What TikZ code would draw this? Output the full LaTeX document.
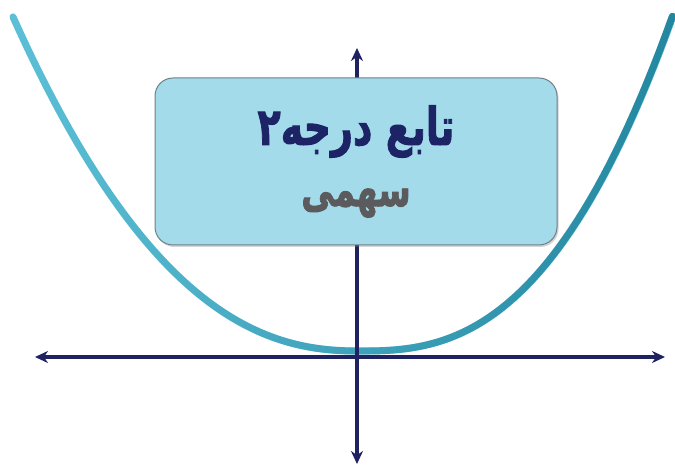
\documentclass[tikz,border=0pt]{standalone}
\usepackage{graphicx}
\usepackage{fontspec}
\newfontfamily\farsifont[Script=Arabic,BoldFeatures={FakeBold=2}]{DejaVu Sans}
\TeXXeTstate=1
\usetikzlibrary{arrows.meta,shadows,fadings}

\definecolor{curvelight}{HTML}{5CC0D7}
\definecolor{curvedark}{HTML}{2487A0}
\definecolor{axisnavy}{HTML}{1F2160}
\definecolor{boxfill}{HTML}{A3DBEA}
\definecolor{boxline}{HTML}{6F8089}
\definecolor{titlenavy}{HTML}{1D2466}
\definecolor{subgray}{HTML}{5B5B5D}

\tikzfading[name=curvefade, left color=transparent!100, right color=transparent!0]

\begin{document}
\begin{tikzpicture}[
    x=1pt, y=-1pt,
    >={Stealth[length=13pt,width=12pt]},
    axis/.style={
        draw=axisnavy,
        line width=3.4pt,
        <->
    },
    curve/.style={
        line width=7pt,
        line cap=round,
        line join=round
    },
    titlebox/.style={
        draw=boxline,
        fill=boxfill,
        rounded corners=18pt,
        line width=1pt,
        minimum width=402pt,
        minimum height=167pt,
        inner sep=0pt,
        align=center,
        font=\farsifont\bfseries,
        drop shadow={shadow xshift=1.5pt, shadow yshift=-2pt, opacity=0.35}
    }
]
\useasboundingbox (0,0) rectangle (675,470);

% Parabola (x in hundreds of pixels from the vertex)
\draw[curve, draw=curvelight]
    plot[domain=3.47:0.02, samples=50] ({360-100*\x},{351-18.87*\x^2.31})
    -- plot[domain=0.02:3.13, samples=50] ({360+100*\x},{351-17.24*\x^2.6});
\draw[curve, draw=curvedark, path fading=curvefade]
    plot[domain=3.47:0.02, samples=50] ({360-100*\x},{351-18.87*\x^2.31})
    -- plot[domain=0.02:3.13, samples=50] ({360+100*\x},{351-17.24*\x^2.6});

% Axes
\coordinate (xleft) at (35,357);
\coordinate (xright) at (665,357);
\coordinate (ytop) at (357,48);
\coordinate (ybottom) at (357,464);
\draw[axis] (xleft) -- (xright);
\draw[axis] (ybottom) -- (ytop);

% Title box
\node[titlebox] (title) at (356,161.5) {%
    {\color{titlenavy}\fontsize{40}{40}\selectfont\scalebox{0.95}[1.3]{\beginR تابع درجه۲\endR}}\\[30pt]
    {\color{subgray}\fontsize{35}{35}\selectfont\scalebox{0.94}[1.35]{\beginR سهمی\endR}}};

\end{tikzpicture}
\end{document}
